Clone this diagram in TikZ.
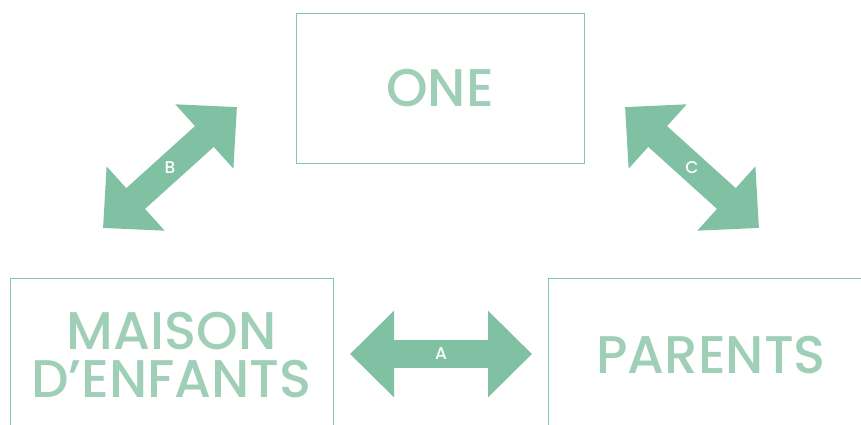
\documentclass[tikz,border=0pt]{standalone}
\usepackage{fontspec}
\setmainfont{Poppins}[UprightFont=* Medium]
\usetikzlibrary{positioning,arrows.meta}
\definecolor{arrowgreen}{RGB}{128,193,164}
\definecolor{textgreen}{RGB}{160,207,184}
\definecolor{framegreen}{RGB}{128,200,168}

\begin{document}
\begin{tikzpicture}[
  x=1pt, y=-1pt,
  box/.style={draw=framegreen, line width=1pt, text=textgreen, align=center, inner sep=0pt,
    font=\fontsize{53}{48}\selectfont},
  link/.style={arrowgreen, line width=28pt,
    {Triangle[length=44pt,width=84pt]}-{Triangle[length=44pt,width=84pt]}},
  lab/.style={text=white, font=\fontsize{17}{17}\selectfont}
]
\clip (0,0) rectangle (861,424);

\node[box, minimum width=288pt, minimum height=150pt] (one) at (440,88) {ONE};
\node[box, minimum width=323pt, minimum height=154pt] (maison) at (171.5,355) {MAISON\\D’ENFANTS};
\node[box, minimum width=326pt, minimum height=154pt] (parents) at (711,355) {PARENTS};

% free ends of the double arrows
\coordinate (aL) at (350,354);
\coordinate (aR) at (532,354);
\coordinate (bL) at (103,228);
\coordinate (bR) at (237,107);
\coordinate (cL) at (625,107);
\coordinate (cR) at (759,228);

\draw[link] (aL) -- node[lab] (labA) {A} (aR);
\draw[link] (bL) -- node[lab] (labB) {B} (bR);
\draw[link] (cL) -- node[lab] (labC) {C} (cR);

\end{tikzpicture}
\end{document}
